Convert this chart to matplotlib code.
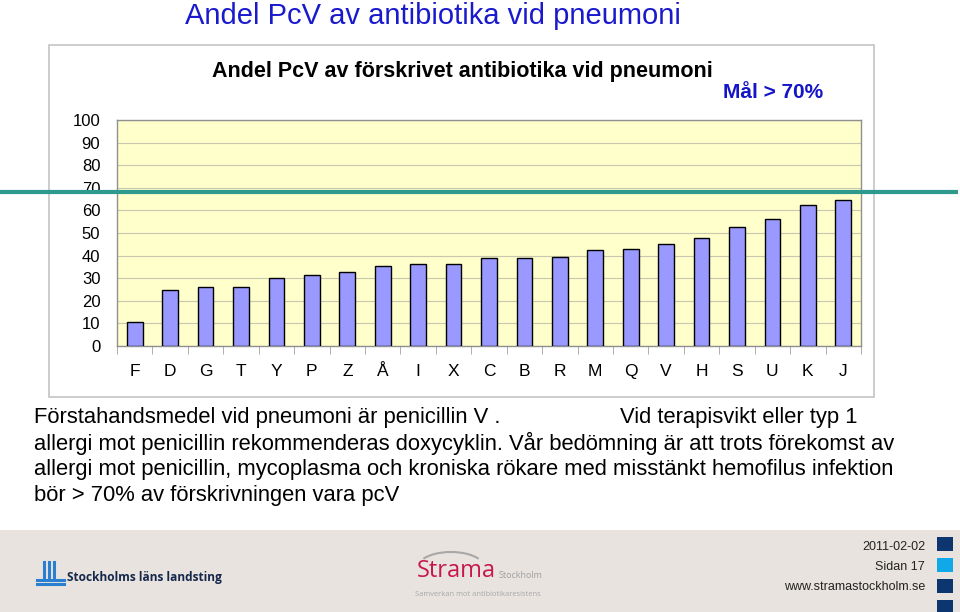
import matplotlib
matplotlib.use('Agg')
import matplotlib.pyplot as plt
from matplotlib.patches import Rectangle, Arc
from matplotlib.lines import Line2D

plt.rcParams['font.family'] = ['Liberation Sans', 'DejaVu Sans']

# data
units = ['F', 'D', 'G', 'T', 'Y', 'P', 'Z', 'Å', 'I', 'X', 'C',
         'B', 'R', 'M', 'Q', 'V', 'H', 'S', 'U', 'K', 'J']
share_pcv = [10.4, 24.7, 26.1, 26.1, 29.9, 31.3, 32.8, 35.4, 36.1, 36.5, 38.9,
             38.9, 39.4, 42.3, 42.7, 45.2, 47.9, 52.7, 56.4, 62.6, 64.6]
y_ticks = [0, 10, 20, 30, 40, 50, 60, 70, 80, 90, 100]

W, H = 960, 612
fig = plt.figure(figsize=(W / 100, H / 100), dpi=100)


def fx(x):
    return x / W


def fy(y):
    return 1 - y / H


# slide title
fig.text(fx(185), fy(16), 'Andel PcV av antibiotika vid pneumoni', fontsize=21,
         color='#1a1acd', va='center', ha='left')

# chart frame
fig.patches.append(Rectangle((fx(49), fy(397)), fx(874 - 49), (397 - 45) / H,
                             transform=fig.transFigure, facecolor='white',
                             edgecolor='#c4c4c4', lw=1.2, zorder=-1))

fig.text(fx(462), fy(71), 'Andel PcV av förskrivet antibiotika vid pneumoni',
         fontsize=15.5, fontweight='bold', ha='center', va='center')
fig.text(fx(823), fy(93), 'Mål > 70%', fontsize=15, fontweight='bold',
         color='#1515c8', ha='right', va='center')

# plot
ax = fig.add_axes([fx(117), fy(346), fx(861 - 117), (346 - 120) / H])
ax.set_zorder(2)
ax.set_facecolor('#ffffcc')
x = range(len(units))
ax.bar(x, share_pcv, width=0.44, color='#9999ff', edgecolor='black', lw=1, zorder=3)
ax.set_xlim(-0.5, len(units) - 0.5)
ax.set_ylim(0, 100)
ax.set_yticks(y_ticks)
ax.set_yticklabels([str(v) for v in y_ticks], fontsize=12)
ax.tick_params(axis='y', length=0, pad=12)
ax.yaxis.grid(True, color='#c8c8b0', lw=0.8)
ax.set_axisbelow(True)
ax.set_xticks(list(x))
ax.set_xticklabels(units, fontsize=12.5)
ax.tick_params(axis='x', which='major', length=0, pad=13)
ax.set_xticks([i - 0.5 for i in range(len(units) + 1)], minor=True)
ax.tick_params(axis='x', which='minor', length=6, color='#a0a0a0', direction='out')
for s in ax.spines.values():
    s.set_color('#909090')
    s.set_linewidth(1)

# teal divider line
fig.lines.append(Line2D([fx(0), fx(956)], [fy(192), fy(192)], transform=fig.transFigure,
                        color='#2e9a8e', lw=3, zorder=10))

# body text
body_size = 15.8
fig.text(fx(34), fy(417), 'Förstahandsmedel vid pneumoni är penicillin V .',
         fontsize=body_size, va='center')
fig.text(fx(620), fy(417), 'Vid terapisvikt eller typ 1', fontsize=body_size, va='center')
body_lines = ['allergi mot penicillin rekommenderas doxycyklin. Vår bedömning är att trots förekomst av',
              'allergi mot penicillin, mycoplasma och kroniska rökare med misstänkt hemofilus infektion',
              'bör > 70% av förskrivningen vara pcV']
for i, line in enumerate(body_lines):
    fig.text(fx(34), fy(443 + 26 * i), line, fontsize=body_size, va='center')

# footer band
fig.patches.append(Rectangle((0, 0), 1, (612 - 530) / H, transform=fig.transFigure,
                             facecolor='#e8e3df', edgecolor='none', zorder=-1))

# landsting logo
logo_col = '#2a7fd0'
for dx in [0, 5, 10]:
    fig.lines.append(Line2D([fx(44 + dx), fx(44 + dx)], [fy(562), fy(578)],
                            transform=fig.transFigure, color=logo_col, lw=2.2))
fig.lines.append(Line2D([fx(37), fx(64)], [fy(580), fy(580)], transform=fig.transFigure,
                        color=logo_col, lw=2.2))
fig.lines.append(Line2D([fx(37), fx(64)], [fy(584), fy(584)], transform=fig.transFigure,
                        color=logo_col, lw=2.2))
fig.text(fx(67), fy(578), 'Stockholms läns landsting', fontsize=8.6, fontweight='bold',
         color='#15284b', family=['Open Sans', 'DejaVu Sans'], va='center')

# strama logo
fig.patches.append(Arc((fx(451), fy(567)), fx(66), 30 / H, theta1=25, theta2=155,
                       transform=fig.transFigure, color='#a8a8a8', lw=1.5))
fig.text(fx(417), fy(571), 'Strama', fontsize=17, color='#c8184a',
         family=['Open Sans', 'DejaVu Sans'], va='center')
fig.text(fx(499), fy(576), 'Stockholm', fontsize=6.5, color='#a0a0a0',
         family=['Open Sans', 'DejaVu Sans'], va='center')
fig.text(fx(478), fy(594), 'Samverkan mot antibiotikaresistens', fontsize=5.4,
         color='#a8a8a8', family=['Open Sans', 'DejaVu Sans'], ha='center', va='center')

# right-hand footer text
footer_lines = ['2011-02-02', 'Sidan 17', 'www.stramastockholm.se']
for i, t in enumerate(footer_lines):
    fig.text(fx(925), fy(547 + 20 * i), t, fontsize=9, ha='right', va='center',
             color='#222222')
square_cols = ['#0d3570', '#10a8e8', '#0d3570', '#0d3570']
for i, c in enumerate(square_cols):
    fig.patches.append(Rectangle((fx(937), fy(551 + 21 * i)), fx(16), 14 / H,
                                 transform=fig.transFigure, facecolor=c,
                                 edgecolor='none'))

fig.savefig('out.png', dpi=100)
